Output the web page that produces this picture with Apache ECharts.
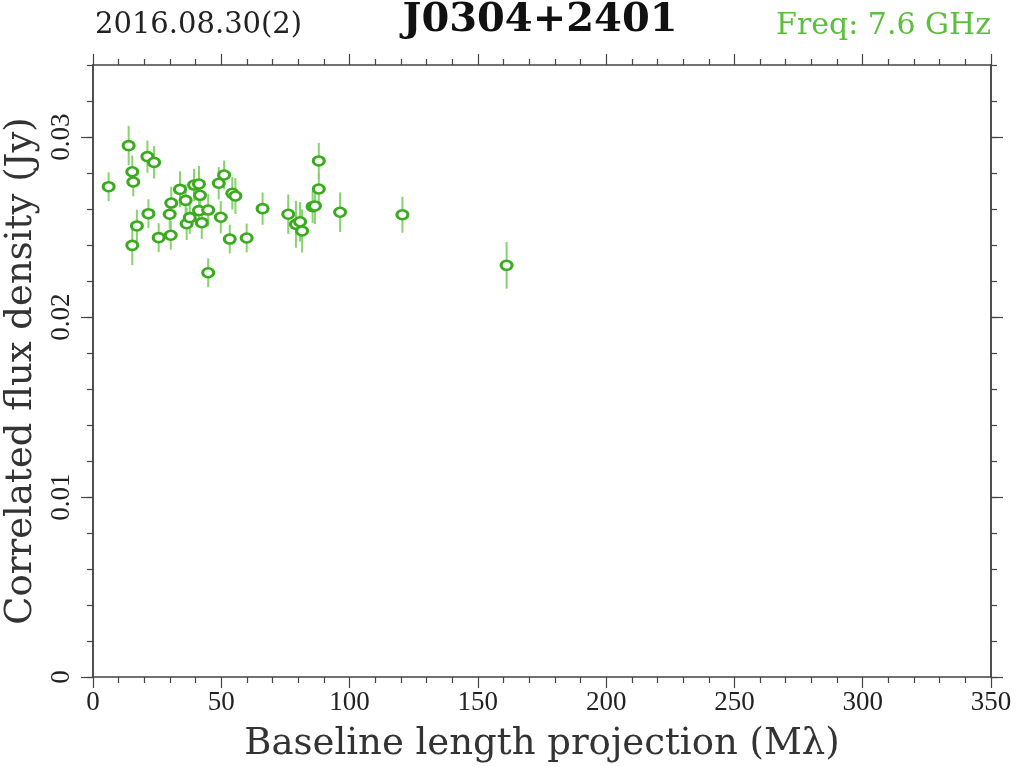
<!DOCTYPE html>
<html>
<head>
<meta charset="utf-8">
<script src="https://cdn.jsdelivr.net/npm/echarts@6/dist/echarts.min.js"></script>
<style>html,body{margin:0;padding:0;background:#fff}#c{width:1024px;height:767px}</style>
</head>
<body>
<div id="c"></div>
<script>
// Data
const baseline = [6.1, 13.9, 15.3, 15.7, 15.3, 17.1, 21.2, 21.6, 23.8, 25.6, 29.9, 30.3, 30.5, 33.9, 36.1, 36.5, 37.7, 39.4, 41.3, 41.7, 41.3, 42.4, 44.9, 44.9, 49.0, 51.1, 49.8, 53.3, 54.3, 55.5, 59.9, 66.1, 76.1, 79.1, 80.7, 81.5, 85.6, 86.5, 88.0, 88.0, 96.3, 120.6, 161.2];
const flux = [0.02724, 0.02952, 0.02807, 0.02750, 0.02398, 0.02506, 0.02891, 0.02574, 0.02859, 0.02441, 0.02571, 0.02454, 0.02633, 0.02709, 0.02648, 0.02518, 0.02552, 0.02733, 0.02739, 0.02676, 0.02591, 0.02524, 0.02594, 0.02246, 0.02743, 0.02789, 0.02554, 0.02433, 0.02687, 0.02672, 0.02439, 0.02602, 0.02571, 0.02515, 0.02529, 0.02478, 0.02613, 0.02617, 0.02867, 0.02711, 0.02582, 0.02568, 0.02287];
const fluxErr = [0.0008, 0.0011, 0.0009, 0.0008, 0.0011, 0.0009, 0.0009, 0.0008, 0.0009, 0.0008, 0.0008, 0.0008, 0.0009, 0.0010, 0.0009, 0.0009, 0.0009, 0.0009, 0.0010, 0.0009, 0.0009, 0.0009, 0.0009, 0.0008, 0.0009, 0.0008, 0.0009, 0.0008, 0.0009, 0.0010, 0.0008, 0.0009, 0.0011, 0.0013, 0.0011, 0.0012, 0.0009, 0.0010, 0.0010, 0.0009, 0.0011, 0.0010, 0.0013];
const yMajorTicks = [0, 0.01, 0.02, 0.03];
const yMinorTicks = [0, 0.002, 0.004, 0.006, 0.008, 0.01, 0.012, 0.014, 0.016, 0.018, 0.02, 0.022, 0.024, 0.026, 0.028, 0.03, 0.032, 0.034];
const yTickLabels = ['0', '0.01', '0.02', '0.03'];
const xMin = 0, xMax = 350, xStep = 50;
const yMin = 0, yMax = 0.034;

const pts = baseline.map((b, i) => [b, flux[i], fluxErr[i]]);

const axisCol = '#444';
const serif = 'DejaVu Serif';
const lineStyle = {color: axisCol, width: 1.5};

const chart = echarts.init(document.getElementById('c'), null, {renderer: 'canvas'});

function xAx(pos, showLabel) {
  return {
    type: 'value', position: pos, min: xMin, max: xMax, interval: xStep, offset: 0,
    axisLine: {show: true, onZero: false, lineStyle},
    axisTick: {show: true, inside: false, length: 11, lineStyle: {color: axisCol, width: 1.2}},
    minorTick: {show: true, splitNumber: 5, length: 6, lineStyle: {color: axisCol, width: 1.2}},
    splitLine: {show: false}, minorSplitLine: {show: false},
    axisLabel: {show: showLabel, margin: 12, fontFamily: 'Liberation Serif', fontSize: 27, color: '#222'},
    name: showLabel ? 'Baseline length projection (M\u03bb)' : '',
    nameLocation: 'middle', nameGap: 49,
    nameTextStyle: {fontFamily: serif, fontSize: 37, color: '#333'}
  };
}
function yAx(pos, ticks, len, showLabel) {
  return {
    type: 'value', position: pos, min: yMin, max: yMax, offset: 0,
    axisLine: {show: true, onZero: false, lineStyle},
    axisTick: {show: true, inside: false, length: len, customValues: ticks, lineStyle: {color: axisCol, width: 1.2}},
    splitLine: {show: false},
    axisLabel: {show: showLabel, customValues: yMajorTicks, rotate: 90, margin: 18,
      fontFamily: 'Liberation Serif', fontSize: 27, color: '#222',
      formatter: v => { const k = yMajorTicks.findIndex(t => Math.abs(t - v) < 1e-9); return k >= 0 ? yTickLabels[k] : ''; }},
    name: showLabel ? 'Correlated flux density (Jy)' : '',
    nameLocation: 'middle', nameGap: 53, nameRotate: 90,
    nameTextStyle: {fontFamily: serif, fontSize: 37, color: '#333'}
  };
}

const option = {
  animation: false,
  backgroundColor: '#fff',
  grid: {left: 93, right: 33, top: 65, bottom: 90, containLabel: false, outerBoundsMode: 'none'},
  xAxis: [xAx('bottom', true), xAx('top', false)],
  yAxis: [
    yAx('left', yMajorTicks, 12, true),
    yAx('left', yMinorTicks, 6, false),
    yAx('right', yMajorTicks, 12, false),
    yAx('right', yMinorTicks, 6, false)
  ],
  graphic: [
    {type: 'text', left: 95, top: 11, style: {text: '2016.08.30(2)', fontFamily: serif, fontSize: 29, fill: '#222'}},
    {type: 'text', x: 540, y: 21, style: {text: 'J0304+2401', fontFamily: serif, fontWeight: 'bold', fontSize: 40, fill: '#111', textAlign: 'center', textVerticalAlign: 'middle'}},
    {type: 'text', right: 33, top: 11, style: {text: 'Freq: 7.6 GHz', fontFamily: serif, fontSize: 30, fill: '#5cbf3c'}}
  ],
  series: [
    {
      type: 'custom', xAxisIndex: 0, yAxisIndex: 0, data: pts, z: 2,
      renderItem: (params, api) => {
        const x = api.value(0), y = api.value(1), e = api.value(2);
        const p1 = api.coord([x, y - e]);
        const p2 = api.coord([x, y + e]);
        return {type: 'line', shape: {x1: p1[0], y1: p1[1], x2: p2[0], y2: p2[1]},
          style: {stroke: '#86d46e', lineWidth: 2}};
      }
    },
    {
      type: 'scatter', xAxisIndex: 0, yAxisIndex: 0, data: pts, z: 3,
      symbol: 'circle', symbolSize: [11, 9],
      itemStyle: {color: '#ffffff', borderColor: '#3aab1e', borderWidth: 2.8, opacity: 1}
    }
  ]
};
chart.setOption(option);
</script>
</body>
</html>
